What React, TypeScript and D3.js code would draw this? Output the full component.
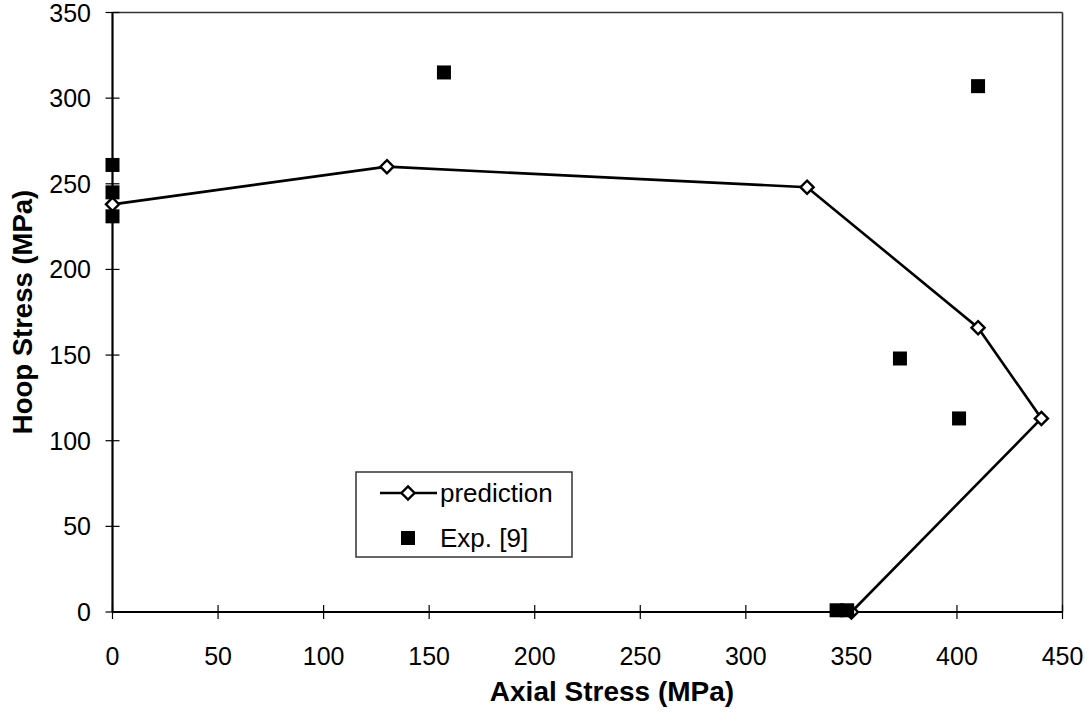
import React from "react";
import * as d3 from "d3";

const predX = [0, 130, 329, 410, 440, 350];
const predY = [238, 260, 248, 166, 113, 0];
const expX = [0, 0, 0, 157, 410, 373, 401, 343, 348];
const expY = [261, 245, 231, 315, 307, 148, 113, 1, 1];
const xTicks = [0, 50, 100, 150, 200, 250, 300, 350, 400, 450];
const yTicks = [0, 50, 100, 150, 200, 250, 300, 350];
const legendLabels = ["prediction", "Exp. [9]"];

const W = 1091, H = 713;
const L = 112.5, R = 1062.5, T = 12.5, B = 612;
const FONT = "'Liberation Sans', Arial, sans-serif";

export default function App() {
  const x = d3.scaleLinear().domain([0, 450]).range([L, R]);
  const y = d3.scaleLinear().domain([0, 350]).range([B, T]);
  const pts: [number, number][] = predX.map((v, i) => [v, predY[i]]);
  const line = d3.line<[number, number]>().x(d => x(d[0])).y(d => y(d[1]));
  const dia = d3.symbol().type(d3.symbolDiamond2).size(110)();
  const sq = 14;
  return (
    <svg width={W} height={H} style={{ position: "absolute", left: 0, top: 0, background: "#fff" }} fontFamily={FONT}>
      <rect x={0} y={0} width={W} height={H} fill="#fff" />
      {/* frame */}
      <line x1={L} y1={T} x2={R} y2={T} stroke="#333" strokeWidth={1.6} />
      <line x1={R} y1={T} x2={R} y2={B} stroke="#333" strokeWidth={1.6} />
      <line x1={L} y1={T} x2={L} y2={B} stroke="#000" strokeWidth={2.2} />
      <line x1={L} y1={B} x2={R} y2={B} stroke="#000" strokeWidth={2.2} />
      {/* y ticks */}
      {yTicks.map(t => (
        <g key={"y" + t}>
          <line x1={L - 7} x2={L + 7} y1={y(t)} y2={y(t)} stroke="#000" strokeWidth={1.2} />
          <text x={91} y={y(t)} dy="0.36em" textAnchor="end" fontSize={25}>{t}</text>
        </g>
      ))}
      {/* x ticks */}
      {xTicks.map(t => (
        <g key={"x" + t}>
          <line x1={x(t)} x2={x(t)} y1={B - 7} y2={B + 7} stroke="#000" strokeWidth={1.2} />
          <text x={x(t)} y={665} textAnchor="middle" fontSize={25}>{t}</text>
        </g>
      ))}
      {/* axis titles */}
      <text x={612} y={701} textAnchor="middle" fontSize={28} fontWeight="bold">Axial Stress (MPa)</text>
      <text transform={`translate(32,${312}) rotate(-90)`} textAnchor="middle" fontSize={27.5} fontWeight="bold">Hoop Stress (MPa)</text>
      {/* prediction line */}
      <path d={line(pts) || ""} fill="none" stroke="#000" strokeWidth={2.6} />
      {pts.map((p, i) => (
        <path key={"d" + i} d={dia || ""} transform={`translate(${x(p[0])},${y(p[1])})`} fill="#fff" stroke="#000" strokeWidth={2.4} />
      ))}
      {/* experimental */}
      {expX.map((v, i) => (
        <rect key={"e" + i} x={x(v) - sq / 2} y={y(expY[i]) - sq / 2} width={sq} height={sq} fill="#000" />
      ))}
      {/* legend */}
      <g>
        <rect x={356} y={472} width={216} height={85} fill="#fff" stroke="#333" strokeWidth={1.5} />
        <line x1={380} x2={437} y1={493} y2={493} stroke="#000" strokeWidth={2.6} />
        <path d={dia || ""} transform="translate(408,493)" fill="#fff" stroke="#000" strokeWidth={2.4} />
        <text x={440} y={493} dy="0.36em" fontSize={26}>{legendLabels[0]}</text>
        <rect x={401} y={531} width={sq} height={sq} fill="#000" />
        <text x={440} y={538} dy="0.36em" fontSize={26}>{legendLabels[1]}</text>
      </g>
    </svg>
  );
}
